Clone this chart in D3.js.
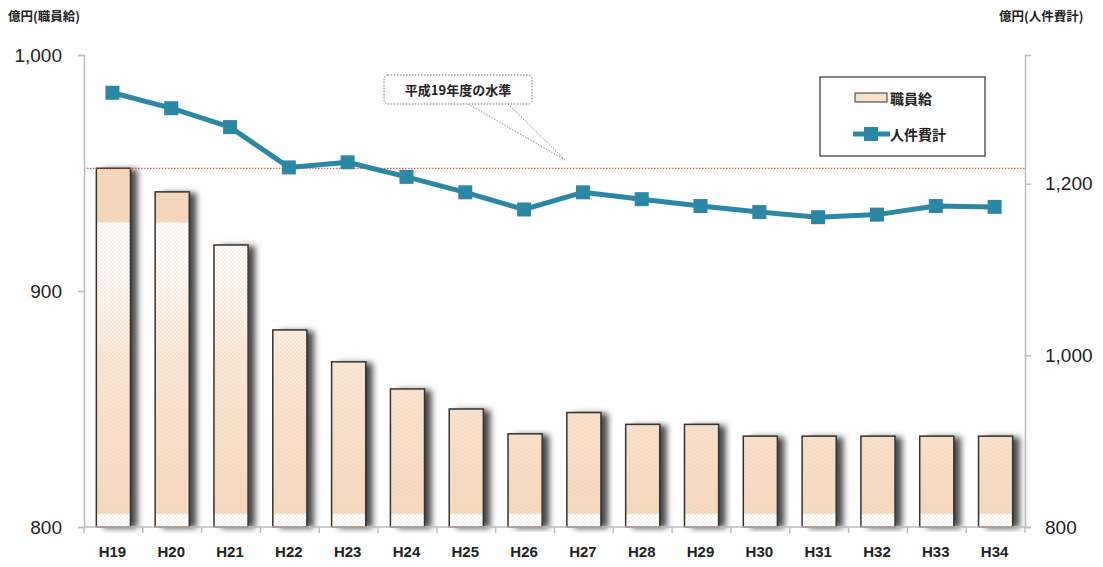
<!DOCTYPE html>
<html>
<head>
<meta charset="utf-8">
<script src="https://cdn.jsdelivr.net/npm/d3@7"></script>
<style>
  body { margin: 0; background: #fff; }
  svg { display: block; }
  .tick-label { font-family: "Liberation Sans", Lato, sans-serif; }
  .jp { font-family: "Noto Sans CJK JP", sans-serif; font-weight: bold; }
</style>
</head>
<body>
<div id="chart"></div>
<script>
// data
const categories = ['H19', 'H20', 'H21', 'H22', 'H23', 'H24', 'H25', 'H26',
  'H27', 'H28', 'H29', 'H30', 'H31', 'H32', 'H33', 'H34'];
const salary = [952, 942, 919.5, 883.5, 870, 858.5, 850, 839.5,
  848.5, 843.5, 843.5, 838.5, 838.5, 838.5, 838.5, 838.5];           // 職員給 (left axis)
const personnel = [1306, 1288, 1266, 1219, 1225, 1208, 1190, 1170,
  1190, 1182, 1174, 1167, 1161, 1164, 1174, 1173];                   // 人件費計 (right axis)
const leftTicks = [800, 900, 1000];
const rightTicks = [800, 1000, 1200];
const baseLevel = salary[0]; // 平成19年度の水準

const W = 1103, H = 567;
const margin = {top: 55, right: 78, bottom: 40, left: 84};
const width = W - margin.left - margin.right;
const height = H - margin.top - margin.bottom;

const svg = d3.select('#chart').append('svg')
  .attr('width', W)
  .attr('height', H);

const defs = svg.append('defs');

// bar fill: tan on top, white, fading back to tan, white stripe at the base
const grad = defs.append('linearGradient')
  .attr('id', 'barFill')
  .attr('gradientUnits', 'userSpaceOnUse')
  .attr('x1', 0).attr('x2', 0)
  .attr('y1', 0).attr('y2', height);
[[0, '#f5d8bd'], [167, '#f5d8bd'], [168, '#ffffff'], [210, '#fffcf9'],
 [300, '#fbe9d9'], [458, '#f6dac1'], [460, '#ffffff'], [height, '#ffffff']]
  .forEach(([o, c]) => grad.append('stop').attr('offset', o / height).attr('stop-color', c));

const dots = defs.append('pattern')
  .attr('id', 'dots')
  .attr('patternUnits', 'userSpaceOnUse')
  .attr('width', 4).attr('height', 4);
dots.append('circle').attr('cx', 1).attr('cy', 1).attr('r', 0.8).attr('fill', '#d9b08c').attr('opacity', 0.35);
dots.append('circle').attr('cx', 3).attr('cy', 3).attr('r', 0.8).attr('fill', '#d9b08c').attr('opacity', 0.35);

const shadow = defs.append('filter')
  .attr('id', 'shadow')
  .attr('x', '-20%').attr('y', '-5%')
  .attr('width', '170%').attr('height', '110%');
shadow.append('feDropShadow')
  .attr('dx', 7).attr('dy', 1)
  .attr('stdDeviation', 3.2)
  .attr('flood-color', '#000')
  .attr('flood-opacity', 0.72);

const g = svg.append('g')
  .attr('transform', `translate(${margin.left}, ${margin.top})`);

const x = d3.scaleBand().domain(categories).range([0, width]).paddingInner(0.42).paddingOuter(0.21);
const xc = d3.scaleBand().domain(categories).range([0, width]);
const yL = d3.scaleLinear().domain([800, 1000]).range([height, 0]);
const yR = d3.scaleLinear().domain([800, 1350]).range([height, 0]);

// bars: gradient + shadow, then dot overlay and outline
const bar = sel => sel
  .attr('x', d => x(d))
  .attr('y', (d, i) => yL(salary[i]))
  .attr('width', x.bandwidth())
  .attr('height', (d, i) => height - yL(salary[i]));

g.selectAll('.bar')
  .data(categories)
  .enter()
  .append('rect')
  .attr('class', 'bar')
  .call(bar)
  .attr('fill', 'url(#barFill)')
  .attr('filter', 'url(#shadow)');

g.selectAll('.bar-dots')
  .data(categories)
  .enter()
  .append('rect')
  .attr('class', 'bar-dots')
  .call(bar)
  .attr('fill', 'url(#dots)')
  .attr('stroke', '#333')
  .attr('stroke-width', 1.5);

// H19 level reference line
g.append('line')
  .attr('x1', 0).attr('x2', width)
  .attr('y1', yL(baseLevel)).attr('y2', yL(baseLevel))
  .attr('stroke', '#e03030')
  .attr('stroke-width', 1)
  .attr('stroke-dasharray', '1.5,1.5');

// axes
const axisColor = '#bbb';
const xAxis = g.append('g')
  .attr('transform', `translate(0, ${height})`);
xAxis.append('line')
  .attr('x1', 0).attr('x2', width)
  .attr('stroke', axisColor).attr('stroke-width', 1.5);
xAxis.selectAll('.xt')
  .data(d3.range(categories.length + 1))
  .enter()
  .append('line')
  .attr('x1', i => i * xc.bandwidth()).attr('x2', i => i * xc.bandwidth())
  .attr('y1', 0).attr('y2', 6)
  .attr('stroke', axisColor).attr('stroke-width', 1.5);
xAxis.selectAll('.xl')
  .data(categories)
  .enter()
  .append('text')
  .attr('class', 'tick-label')
  .attr('x', d => xc(d) + xc.bandwidth() / 2 - 1)
  .attr('y', 30)
  .attr('text-anchor', 'middle')
  .attr('font-size', 15)
  .attr('font-weight', 'bold')
  .attr('fill', '#222')
  .text(d => d);

const leftAxis = g.append('g')
  .call(d3.axisLeft(yL).tickValues(leftTicks).tickSize(6).tickFormat(d3.format(',')));
leftAxis.select('.domain').attr('stroke', axisColor).attr('stroke-width', 1.5);
leftAxis.selectAll('.tick line').attr('stroke', axisColor).attr('stroke-width', 1.5);
leftAxis.selectAll('.tick text')
  .attr('class', 'tick-label')
  .attr('x', -22)
  .attr('font-size', 19)
  .attr('fill', '#222');

const rightAxis = g.append('g')
  .attr('transform', `translate(${width}, 0)`)
  .call(d3.axisRight(yR).tickValues(rightTicks).tickSize(6).tickFormat(d3.format(',')));
rightAxis.select('.domain').attr('stroke', axisColor).attr('stroke-width', 1.5);
rightAxis.selectAll('.tick line').attr('stroke', axisColor).attr('stroke-width', 1.5);
rightAxis.selectAll('.tick text')
  .attr('class', 'tick-label')
  .attr('x', 20)
  .attr('font-size', 19)
  .attr('fill', '#222');

// personnel total line
const lineColor = '#2b88a5';
const cx = d => xc(d) + xc.bandwidth() / 2 - 1;
g.append('path')
  .datum(categories)
  .attr('fill', 'none')
  .attr('stroke', lineColor)
  .attr('stroke-width', 5)
  .attr('stroke-linejoin', 'round')
  .attr('d', d3.line()
    .x(d => cx(d))
    .y((d, i) => yR(personnel[i]))
  );
g.selectAll('.marker')
  .data(categories)
  .enter()
  .append('rect')
  .attr('x', d => cx(d) - 7)
  .attr('y', (d, i) => yR(personnel[i]) - 7)
  .attr('width', 14)
  .attr('height', 14)
  .attr('fill', lineColor);

// axis titles
svg.append('text')
  .attr('class', 'jp')
  .attr('x', 8).attr('y', 21)
  .attr('font-size', 12.5)
  .attr('fill', '#222')
  .text('億円(職員給)');
svg.append('text')
  .attr('class', 'jp')
  .attr('x', 999).attr('y', 21)
  .attr('font-size', 12.5)
  .attr('fill', '#222')
  .text('億円(人件費計)');

// callout
const call = svg.append('g');
call.append('line')
  .attr('x1', 468).attr('y1', 104).attr('x2', 565).attr('y2', 160)
  .attr('stroke', '#888').attr('stroke-dasharray', '1.5,1.5');
call.append('line')
  .attr('x1', 508).attr('y1', 104).attr('x2', 565).attr('y2', 160)
  .attr('stroke', '#888').attr('stroke-dasharray', '1.5,1.5');
call.append('rect')
  .attr('x', 384).attr('y', 75)
  .attr('width', 148).attr('height', 29)
  .attr('rx', 4)
  .attr('fill', '#fff')
  .attr('stroke', '#777')
  .attr('stroke-dasharray', '1.5,1.5');
call.append('text')
  .attr('class', 'jp')
  .attr('x', 458).attr('y', 95)
  .attr('text-anchor', 'middle')
  .attr('font-size', 13)
  .attr('fill', '#222')
  .text('平成19年度の水準');

// legend
const lg = svg.append('g');
lg.append('rect')
  .attr('x', 820).attr('y', 77)
  .attr('width', 165).attr('height', 79)
  .attr('fill', '#fff')
  .attr('stroke', '#333')
  .attr('stroke-width', 1.2);
lg.append('rect')
  .attr('x', 855).attr('y', 93)
  .attr('width', 32).attr('height', 9)
  .attr('fill', '#f7e2cf')
  .attr('stroke', '#333');
lg.append('text')
  .attr('class', 'jp')
  .attr('x', 890).attr('y', 104)
  .attr('font-size', 14)
  .attr('fill', '#222')
  .text('職員給');
lg.append('line')
  .attr('x1', 853).attr('x2', 890)
  .attr('y1', 134).attr('y2', 134)
  .attr('stroke', lineColor).attr('stroke-width', 5);
lg.append('rect')
  .attr('x', 864).attr('y', 127)
  .attr('width', 14).attr('height', 14)
  .attr('fill', lineColor);
lg.append('text')
  .attr('class', 'jp')
  .attr('x', 890).attr('y', 140)
  .attr('font-size', 14)
  .attr('fill', '#222')
  .text('人件費計');
</script>
</body>
</html>
